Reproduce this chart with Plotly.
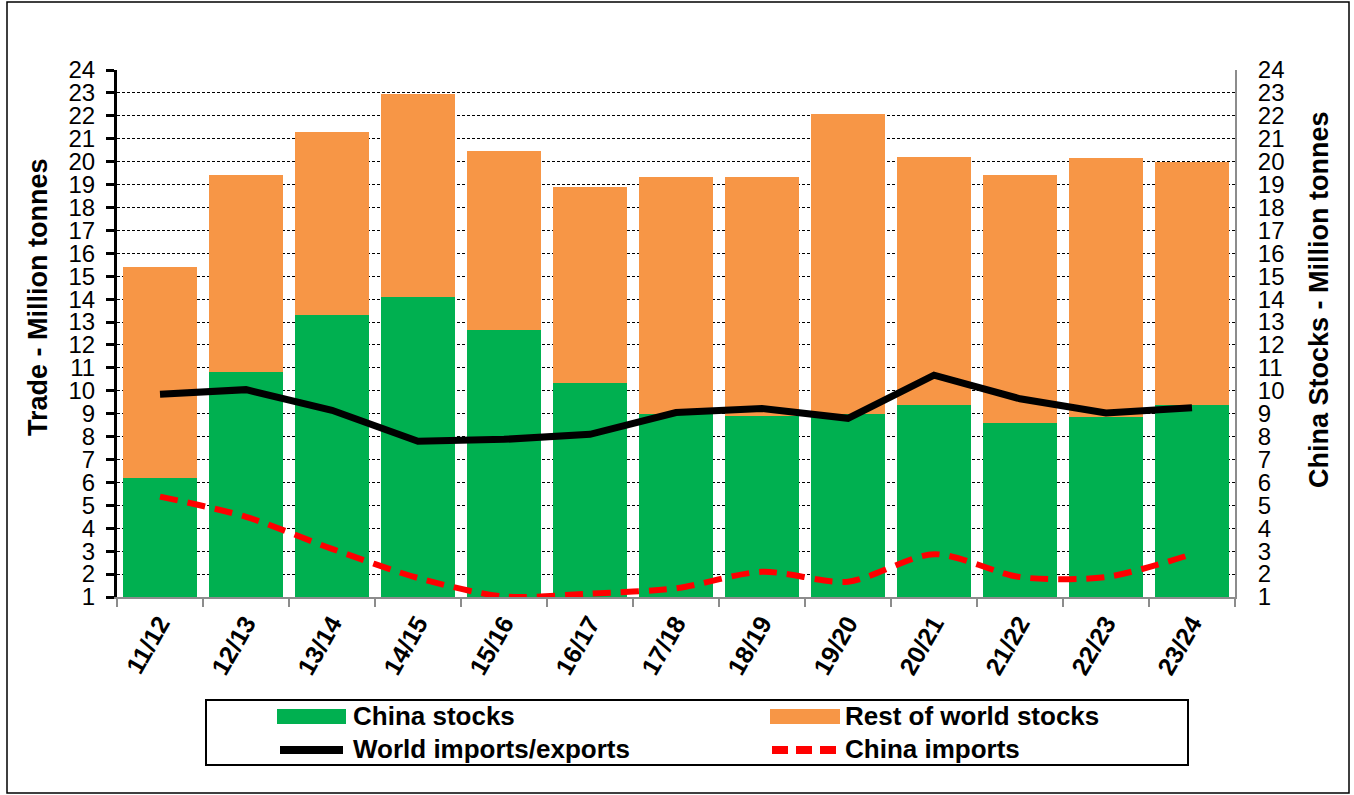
import plotly.graph_objects as go

seasons = ["11/12", "12/13", "13/14", "14/15", "15/16", "16/17", "17/18",
           "18/19", "19/20", "20/21", "21/22", "22/23", "23/24"]
china_stocks = [6.2, 10.8, 13.3, 14.1, 12.65, 10.35, 9.0, 8.9, 9.0, 9.4, 8.6, 8.85, 9.4]
total_stocks = [15.4, 19.4, 21.3, 22.95, 20.45, 18.9, 19.33, 19.33, 22.1, 20.2, 19.4, 20.15, 20.0]
rest_stocks = [round(t - c, 2) for t, c in zip(total_stocks, china_stocks)]
world_trade = [9.85, 10.05, 9.15, 7.8, 7.88, 8.1, 9.05, 9.23, 8.8, 10.68, 9.65, 9.03, 9.26]
china_imports = [5.38, 4.5, 3.1, 1.83, 1.02, 1.15, 1.38, 2.1, 1.67, 2.87, 1.87, 1.87, 2.87]

FONT = "Arial, Liberation Sans, sans-serif"
GREEN = "#00B050"
ORANGE = "#F79646"

W, H = 1354, 795
L, R, T, B = 117, 1235, 70, 597


def px(x):
    return (x - L) / (R - L)


def py(y):
    return (B - y) / (B - T)


fig = go.Figure()
fig.add_trace(go.Bar(x=seasons, y=china_stocks, name="China stocks",
                     marker=dict(color=GREEN, line=dict(width=0)), yaxis="y", showlegend=False))
fig.add_trace(go.Bar(x=seasons, y=rest_stocks, name="Rest of world stocks",
                     marker=dict(color=ORANGE, line=dict(width=0)), yaxis="y", showlegend=False))
fig.add_trace(go.Scatter(x=seasons, y=world_trade, name="World imports/exports", mode="lines",
                         line=dict(color="black", width=7), yaxis="y2", showlegend=False))
fig.add_trace(go.Scatter(x=seasons, y=china_imports, name="China imports", mode="lines",
                         line=dict(color="#FF0000", width=6, dash="18px,10px", shape="spline", smoothing=0.8),
                         yaxis="y2", showlegend=False))

shapes = []
annotations = []

# outer border
shapes.append(dict(type="rect", xref="paper", yref="paper",
                   x0=px(7), x1=px(1349), y0=py(793), y1=py(2),
                   line=dict(color="black", width=1.5), fillcolor="rgba(0,0,0,0)", layer="below"))
# legend box
shapes.append(dict(type="rect", xref="paper", yref="paper",
                   x0=px(206), x1=px(1188), y0=py(765), y1=py(700),
                   line=dict(color="black", width=2), fillcolor="white"))
# legend symbols
shapes.append(dict(type="rect", xref="paper", yref="paper", x0=px(277), x1=px(346),
                   y0=py(724), y1=py(709), line=dict(width=0), fillcolor=GREEN))
shapes.append(dict(type="rect", xref="paper", yref="paper", x0=px(770), x1=px(840),
                   y0=py(724), y1=py(709), line=dict(width=0), fillcolor=ORANGE))
shapes.append(dict(type="line", xref="paper", yref="paper", x0=px(280), x1=px(343),
                   y0=py(750), y1=py(750), line=dict(color="black", width=8)))
shapes.append(dict(type="line", xref="paper", yref="paper", x0=px(772), x1=px(840),
                   y0=py(750), y1=py(750), line=dict(color="#FF0000", width=8, dash="16px,8px")))

legend_items = [("China stocks", 351, 716), ("Rest of world stocks", 843, 716),
                ("World imports/exports", 351, 749), ("China imports", 843, 749)]
for txt, x, y in legend_items:
    annotations.append(dict(text=txt, xref="paper", yref="paper", x=px(x), y=py(y),
                            xanchor="left", yanchor="middle", showarrow=False,
                            font=dict(family=FONT, size=26, color="black", weight="bold")))

annotations.append(dict(text="Trade - Million tonnes", xref="paper", yref="paper",
                        x=px(38), y=py(297), textangle=-90, showarrow=False,
                        xanchor="center", yanchor="middle",
                        font=dict(family=FONT, size=27, color="black", weight="bold")))
annotations.append(dict(text="China Stocks - Million tonnes", xref="paper", yref="paper",
                        x=px(1319), y=py(300), textangle=-90, showarrow=False,
                        xanchor="center", yanchor="middle",
                        font=dict(family=FONT, size=27, color="black", weight="bold")))

fig.update_layout(
    width=W, height=H,
    margin=dict(l=L, r=W - R, t=T, b=H - B),
    paper_bgcolor="white", plot_bgcolor="white",
    barmode="stack", bargap=0.13,
    shapes=shapes, annotations=annotations,
    xaxis=dict(type="category", tickson="boundaries", ticks="outside", ticklen=8,
               tickwidth=2, tickcolor="#8c8c8c", showline=True, linecolor="#8c8c8c",
               linewidth=2, tickangle=-60, showgrid=False,
               tickfont=dict(family=FONT, size=25, color="black", weight="bold")),
    yaxis=dict(side="right", range=[1, 24], tick0=0, dtick=1, showgrid=True,
               gridcolor="black", griddash="3px,2px", gridwidth=1,
               showline=True, linecolor="#8c8c8c", linewidth=2, ticks="",
               ticklabelstandoff=16, zeroline=False,
               tickfont=dict(family=FONT, size=24, color="black")),
    yaxis2=dict(side="left", overlaying="y", range=[1, 24], tick0=0, dtick=1,
                showgrid=False, zeroline=False, showline=True, linecolor="black",
                linewidth=3, ticks="outside", ticklen=8, tickwidth=3, tickcolor="black",
                ticklabelstandoff=6,
                tickfont=dict(family=FONT, size=24, color="black")),
)

fig.write_html("out.html")
